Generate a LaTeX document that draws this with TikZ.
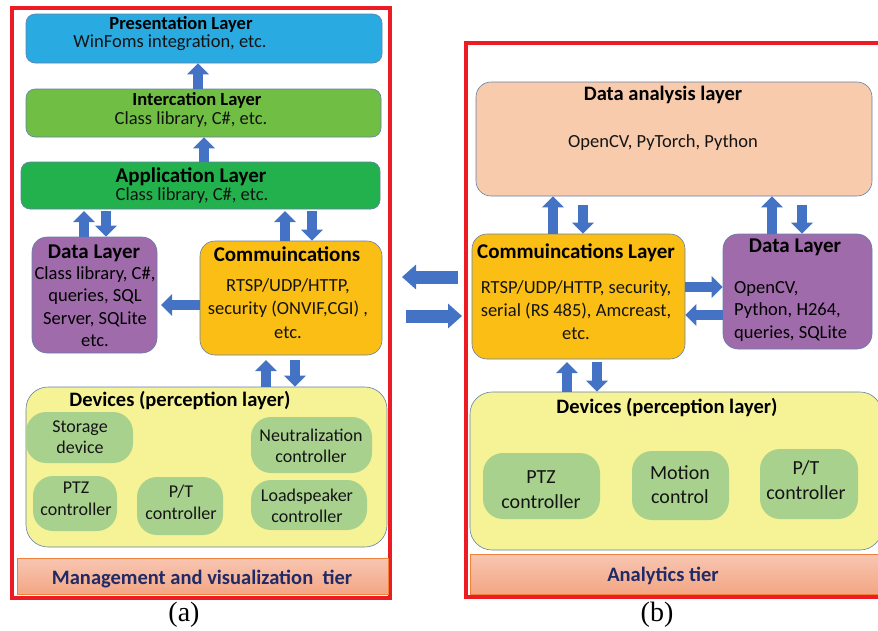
\documentclass[tikz,border=0pt]{standalone}
\usepackage{fontspec}
\setmainfont{Carlito}
\newfontfamily\capfont{Liberation Serif}
\usetikzlibrary{arrows.meta}
\definecolor{presblue}{RGB}{41,171,226}
\definecolor{intergreen}{RGB}{112,190,68}
\definecolor{appgreen}{RGB}{34,177,76}
\definecolor{datapurple}{RGB}{160,107,171}
\definecolor{commorange}{RGB}{251,190,20}
\definecolor{devyellow}{RGB}{246,243,150}
\definecolor{itemgreen}{RGB}{169,209,142}
\definecolor{peach}{RGB}{248,203,173}
\definecolor{arrowblue}{RGB}{68,114,196}
\definecolor{redframe}{RGB}{237,28,36}
\definecolor{tiertop}{RGB}{248,198,178}
\definecolor{tierbot}{RGB}{243,166,132}
\definecolor{tierline}{RGB}{240,130,60}
\definecolor{navytext}{RGB}{32,42,102}
\definecolor{boxline}{RGB}{100,128,170}
\definecolor{txt}{RGB}{20,20,20}
\tikzset{
  layerbox/.style={draw=boxline, line width=0.6pt, rounded corners=9pt, inner sep=0pt},
  midbox/.style={draw=boxline, line width=0.6pt, rounded corners=15pt, inner sep=0pt},
  devbox/.style={draw=boxline, line width=0.6pt, fill=devyellow, rounded corners=22pt, inner sep=0pt},
  itembox/.style={fill=itemgreen, rounded corners=20pt, inner sep=0pt},
  tierbar/.style={draw=tierline, line width=0.6pt, top color=tiertop, bottom color=tierbot, inner sep=0pt},
  frame/.style={draw=redframe, line width=3.8pt},
  ttl/.style={font=\fontsize{18.5}{21}\selectfont\bfseries, text=black, inner sep=0pt},
  bigttl/.style={font=\fontsize{21}{24}\selectfont\bfseries, text=black, inner sep=0pt},
  devttl/.style={font=\fontsize{20.5}{24}\selectfont\bfseries, text=black, inner sep=0pt},
  body/.style={font=\fontsize{18.5}{22.5}\selectfont, text=txt, align=center, inner sep=0pt},
  tiertxt/.style={font=\fontsize{20.5}{24}\selectfont\bfseries, text=navytext, inner sep=0pt},
  capt/.style={font=\capfont\fontsize{28}{30}\selectfont, inner sep=0pt},
  barrow/.style={draw=arrowblue, line width=10pt, -{Triangle[width=21pt,length=11pt]}},
  bigarrow/.style={draw=arrowblue, line width=13pt, -{Triangle[width=24pt,length=14pt]}}
}
\begin{document}
\begin{tikzpicture}[x=1pt,y=-1pt]
\useasboundingbox (0,0) rectangle (878,630);
% ---------------- (a) ----------------
\draw[frame] (12,8) rectangle (390,598);
\node[layerbox, fill=presblue, minimum width=356pt, minimum height=49pt] (pres) at (204,38.5) {};
\node[ttl] (presT) at (181,24) {Presentation Layer};
\node[body] (presB) at (170,43) {WinFoms integration, etc.};
\node[layerbox, fill=intergreen, minimum width=355pt, minimum height=48pt] (inter) at (203.5,113) {};
\node[ttl] (interT) at (197,100) {Intercation Layer};
\node[body] (interB) at (191,119.5) {Class library, C\#, etc.};
\node[layerbox, fill=appgreen, minimum width=359pt, minimum height=47pt] (app) at (200.5,185.5) {};
\node[bigttl] (appT) at (191,177) {Application Layer};
\node[body] (appB) at (192,195.5) {Class library, C\#, etc.};
\node[midbox, fill=datapurple, minimum width=125pt, minimum height=116pt] (dataL) at (94.5,295) {};
\node[bigttl] (dataLT) at (94,253) {Data Layer};
\node[body, text=black] (dataLB) at (95,306.5) {Class library, C\#,\\queries, SQL\\Server, SQLite\\etc.};
\node[midbox, fill=commorange, minimum width=182pt, minimum height=114pt] (commL) at (291,298) {};
\node[bigttl] (commLT) at (287,254) {Commuincations};
\node[body, font=\fontsize{18.5}{23.5}\selectfont] (commLB) at (288,308.5) {RTSP/UDP/HTTP,\\security (ONVIF,CGI) ,\\etc.};
\node[devbox, minimum width=361pt, minimum height=160pt] (devL) at (206.5,467) {};
\node[devttl] (devLT) at (180,400) {Devices (perception layer)};
\node[itembox, minimum width=107pt, minimum height=51pt] (stor) at (79.5,437.5) {};
\node[body, font=\fontsize{18}{21}\selectfont] (storT) at (80,437.5) {Storage\\device};
\node[itembox, minimum width=121pt, minimum height=56pt] (neut) at (311.5,445) {};
\node[body, font=\fontsize{18}{21.5}\selectfont] (neutT) at (311,446) {Neutralization\\controller};
\node[itembox, minimum width=84pt, minimum height=55pt] (ptzL) at (75,503.5) {};
\node[body, font=\fontsize{18}{21.5}\selectfont] (ptzLT) at (76,499) {PTZ\\controller};
\node[itembox, minimum width=86pt, minimum height=58pt] (ptL) at (180,506) {};
\node[body, font=\fontsize{18}{21.5}\selectfont] (ptLT) at (181,502.5) {P/T\\controller};
\node[itembox, minimum width=116pt, minimum height=50pt] (loud) at (309,505) {};
\node[body, font=\fontsize{18}{21}\selectfont] (loudT) at (307,505.5) {Loadspeaker\\controller};
\node[tierbar, minimum width=371pt, minimum height=36pt] (tierL) at (202.5,576) {};
\node[tiertxt] (tierLT) at (202,579) {Management and visualization\ \ tier};
\node[capt] (capA) at (184,615) {(a)};
% arrows (a)
\draw[barrow] (198,0 |- inter.north) -- (198,0 |- pres.south);
\draw[barrow] (204,0 |- app.north) -- (204,0 |- inter.south);
\draw[barrow] (84,0 |- dataL.north) -- (84,211);
\draw[barrow] (106,211) -- (106,0 |- dataL.north);
\draw[barrow] (285,0 |- commL.north) -- (285,211);
\draw[barrow] (312,211) -- (312,0 |- commL.north);
\draw[barrow] (commL.west |- 0,305) -- (161,305);
\draw[barrow] (266,0 |- devL.north) -- (266,360);
\draw[barrow] (295,360) -- (295,0 |- devL.north);
% ---------------- (b) ----------------
\draw[frame] (466,43) rectangle (895,597);
\node[midbox, fill=peach, minimum width=396pt, minimum height=114pt] (ana) at (674,139) {};
\node[devttl] (anaT) at (663,95) {Data analysis layer};
\node[body] (anaB) at (663,143) {OpenCV, PyTorch, Python};
\node[midbox, fill=commorange, minimum width=213pt, minimum height=125pt] (commR) at (578.5,296.5) {};
\node[bigttl] (commRT) at (576,253) {Commuincations Layer};
\node[body, font=\fontsize{18.5}{23}\selectfont] (commRB) at (576,310.5) {RTSP/UDP/HTTP, security,\\serial (RS 485), Amcreast,\\etc.};
\node[midbox, fill=datapurple, minimum width=149pt, minimum height=115pt] (dataR) at (797.5,291.5) {};
\node[bigttl] (dataRT) at (795,247) {Data Layer};
\node[body, align=left, text=black, anchor=west] (dataRB) at (734,311) {OpenCV,\\Python, H264,\\queries, SQLite};
\node[devbox, minimum width=412pt, minimum height=158pt] (devR) at (676,471) {};
\node[devttl] (devRT) at (667,407) {Devices (perception layer)};
\node[itembox, minimum width=117pt, minimum height=66pt] (ptzR) at (541.5,486) {};
\node[body, font=\fontsize{20}{25}\selectfont] (ptzRT) at (541,489.5) {PTZ\\controller};
\node[itembox, minimum width=97pt, minimum height=69pt] (mot) at (680.5,485.5) {};
\node[body, font=\fontsize{20}{24}\selectfont] (motT) at (680,485) {Motion\\control};
\node[itembox, minimum width=98pt, minimum height=70pt] (ptR) at (809,484) {};
\node[body, font=\fontsize{20}{25}\selectfont] (ptRT) at (806,480.5) {P/T\\controller};
\node[tierbar, minimum width=412pt, minimum height=40pt] (tierR) at (676,574) {};
\node[tiertxt] (tierRT) at (663,576) {Analytics tier};
\node[capt] (capB) at (657,615) {(b)};
% arrows (b)
\draw[barrow] (553,0 |- commR.north) -- (553,0 |- ana.south);
\draw[barrow] (583,205) -- (583,0 |- commR.north);
\draw[barrow] (772,0 |- dataR.north) -- (772,0 |- ana.south);
\draw[barrow] (802,205) -- (802,0 |- dataR.north);
\draw[barrow] (commR.east |- 0,287) -- (dataR.west |- 0,287);
\draw[barrow] (dataR.west |- 0,315) -- (commR.east |- 0,315);
\draw[barrow] (567,0 |- devR.north) -- (567,362);
\draw[barrow] (597,362) -- (597,0 |- devR.north);
% between tiers
\draw[bigarrow] (458,277) -- (402,277);
\draw[bigarrow] (406,316) -- (462,316);
\end{tikzpicture}
\end{document}
